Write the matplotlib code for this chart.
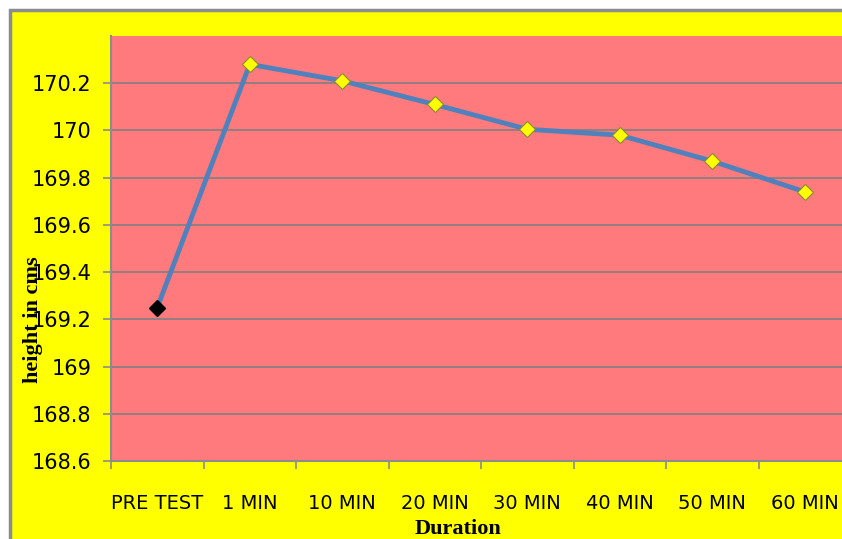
import numpy as np
import matplotlib.pyplot as plt
from matplotlib.patches import Rectangle

categories = ["PRE TEST", "1 MIN", "10 MIN", "20 MIN", "30 MIN", "40 MIN", "50 MIN", "60 MIN"]
heights = [169.25, 170.28, 170.21, 170.11, 170.005, 169.98, 169.87, 169.74]
y_ticks = [168.6, 168.8, 169.0, 169.2, 169.4, 169.6, 169.8, 170.0, 170.2]
y_tick_labels = ["168.6", "168.8", "169", "169.2", "169.4", "169.6", "169.8", "170", "170.2"]

W, H = 842, 539
fig = plt.figure(figsize=(W / 100, H / 100), dpi=100, facecolor="white")

# yellow chart area with grey border (runs off the right and bottom edges)
fig.patches.append(Rectangle((10 / W, -0.1), 1.2, (H - 10) / H + 0.1, transform=fig.transFigure,
                             facecolor="#FFFF00", edgecolor="#8C8C8C", linewidth=2.5, zorder=-5))

ax = fig.add_axes([111 / W, (H - 461) / H, 740 / W, 425 / H])
ax.set_zorder(1)
ax.set_facecolor("#FF7A7C")

x = np.arange(len(categories))
ax.plot(x, heights, color="#4F81BD", linewidth=3.5, zorder=3)
ax.plot(x[1:], heights[1:], linestyle="none", marker="D", markersize=8.5,
        markerfacecolor="#FFFF00", markeredgecolor="#8C8C30", markeredgewidth=0.8, zorder=4)
ax.plot(x[:1], heights[:1], linestyle="none", marker="D", markersize=8.5,
        markerfacecolor="black", markeredgecolor="black", zorder=4)

ax.set_xlim(-0.5, len(categories) - 0.5)
ax.set_ylim(168.6, 170.4)
ax.set_yticks(y_ticks)
ax.set_yticklabels(y_tick_labels, fontsize=15)
ax.set_xticks(x)
ax.set_xticklabels(categories, fontsize=14)
ax.set_xticks(np.arange(len(categories) + 1) - 0.5, minor=True)
ax.tick_params(axis="x", which="major", length=0, pad=24)
ax.tick_params(axis="x", which="minor", length=6, color="#8C8C8C", width=1.2)
ax.tick_params(axis="y", length=6, color="#8C8C8C", width=1.2, pad=8)

ax.grid(axis="y", color="#808080", linewidth=1.2)
ax.set_axisbelow(True)
for side in ["top", "right"]:
    ax.spines[side].set_visible(False)
for side in ["left", "bottom"]:
    ax.spines[side].set_color("#8C8C8C")
    ax.spines[side].set_linewidth(1.5)

fig.text(33 / W, 1 - 320 / H, "height in cms", rotation=90, ha="center", va="center",
         fontsize=16, fontweight="bold", family="Liberation Serif")
fig.text(458 / W, 1 - 529 / H, "Duration", ha="center", va="center",
         fontsize=16, fontweight="bold", family="Liberation Serif")

fig.savefig("out.png", dpi=100)
